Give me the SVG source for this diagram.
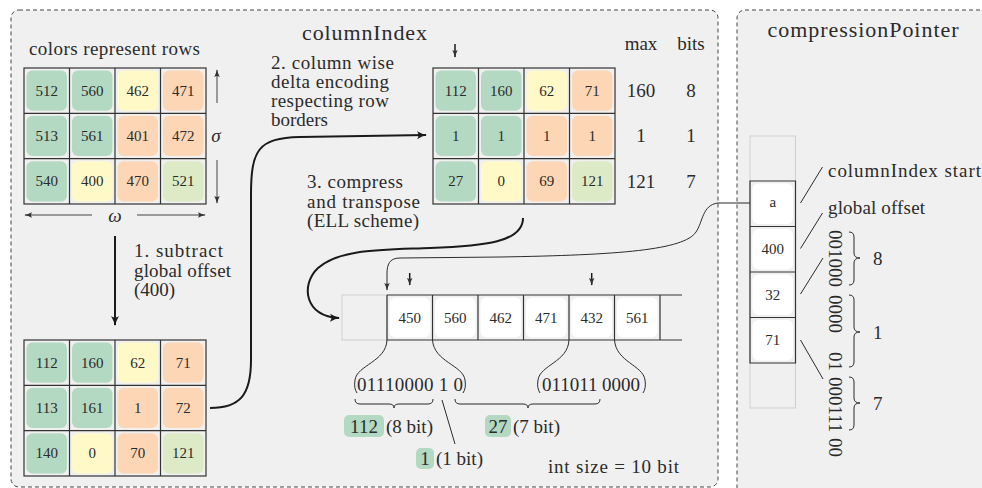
<svg xmlns="http://www.w3.org/2000/svg" width="982" height="488" viewBox="0 0 982 488">
<defs>
<style>
.t{font-family:"Liberation Serif","DejaVu Serif",serif;fill:#2b2b2b}
.n{font-size:15px;text-anchor:middle;dominant-baseline:central}
.b{font-size:19px}
.bc{font-size:19px;text-anchor:middle}
.grid{fill:none;stroke:#333;stroke-width:1.2}
.g{fill:#b3d9c3}.y{fill:#fff9c8}.o{fill:#fdd6b5}.lg{fill:#dcebc6}.w{fill:#fff}
.thick{fill:none;stroke:#1a1a1a;stroke-width:2}
.thin{fill:none;stroke:#2b2b2b;stroke-width:1}
.dim{fill:none;stroke:#444;stroke-width:1}
.panel{fill:#f0f0f0;stroke:#444;stroke-width:1;stroke-dasharray:4 3}
</style>
<marker id="ah" viewBox="0 0 10 10" refX="9" refY="5" markerWidth="10" markerHeight="10" markerUnits="userSpaceOnUse" orient="auto">
<path d="M0,1 Q5,4 10,5 Q5,6 0,9 Q3,5 0,1 z" fill="#1a1a1a"/>
</marker>
<marker id="ahs" viewBox="0 0 10 10" refX="9" refY="5" markerWidth="8" markerHeight="8" markerUnits="userSpaceOnUse" orient="auto">
<path d="M0,1.5 Q5,4 10,5 Q5,6 0,8.5 Q3,5 0,1.5 z" fill="#333"/>
</marker>
<g id="mtx">
<rect class="g" x="2.5" y="2.5" width="40.5" height="40.3" rx="6"/>
<rect class="g" x="48" y="2.5" width="40.5" height="40.3" rx="6"/>
<rect class="y" x="93.5" y="2.5" width="40.5" height="40.3" rx="6"/>
<rect class="o" x="139" y="2.5" width="40.5" height="40.3" rx="6"/>
<rect class="g" x="2.5" y="47.8" width="40.5" height="40.3" rx="6"/>
<rect class="g" x="48" y="47.8" width="40.5" height="40.3" rx="6"/>
<rect class="o" x="93.5" y="47.8" width="40.5" height="40.3" rx="6"/>
<rect class="o" x="139" y="47.8" width="40.5" height="40.3" rx="6"/>
<rect class="g" x="2.5" y="93.2" width="40.5" height="40.3" rx="6"/>
<rect class="y" x="48" y="93.2" width="40.5" height="40.3" rx="6"/>
<rect class="o" x="93.5" y="93.2" width="40.5" height="40.3" rx="6"/>
<rect class="lg" x="139" y="93.2" width="40.5" height="40.3" rx="6"/>
<rect class="grid" x="0" y="0" width="182" height="136"/>
<path class="grid" d="M45.5,0V136M91,0V136M136.5,0V136M0,45.33H182M0,90.67H182"/>
</g>
</defs>

<rect width="982" height="488" fill="#fff"/>
<rect class="panel" x="11" y="10" width="707" height="477" rx="8"/>
<rect class="panel" x="737" y="10" width="270" height="500" rx="8"/>

<text class="t" x="302" y="40" font-size="22" textLength="125">columnIndex</text>
<text class="t" x="863" y="37" font-size="22" text-anchor="middle" textLength="191">compressionPointer</text>

<g id="original">
<text class="t b" x="29" y="55" textLength="171">colors represent rows</text>
<use href="#mtx" transform="translate(24,68)"/>
<g class="t n" transform="translate(24,68)">
<text x="22.75" y="22.67">512</text><text x="68.25" y="22.67">560</text><text x="113.75" y="22.67">462</text><text x="159.25" y="22.67">471</text>
<text x="22.75" y="68">513</text><text x="68.25" y="68">561</text><text x="113.75" y="68">401</text><text x="159.25" y="68">472</text>
<text x="22.75" y="113.33">540</text><text x="68.25" y="113.33">400</text><text x="113.75" y="113.33">470</text><text x="159.25" y="113.33">521</text>
</g>
<path class="dim" d="M217,103V70" marker-end="url(#ahs)"/>
<path class="dim" d="M217,160V203" marker-end="url(#ahs)"/>
<path class="dim" d="M92,215H25" marker-end="url(#ahs)"/>
<path class="dim" d="M137,215H205" marker-end="url(#ahs)"/>
<text class="t" x="216" y="142" font-size="19" font-style="italic" text-anchor="middle">σ</text>
<text class="t" x="115" y="222" font-size="19" font-style="italic" text-anchor="middle">ω</text>
</g>

<g id="offset">
<use href="#mtx" transform="translate(24,340)"/>
<g class="t n" transform="translate(24,340)">
<text x="22.75" y="22.67">112</text><text x="68.25" y="22.67">160</text><text x="113.75" y="22.67">62</text><text x="159.25" y="22.67">71</text>
<text x="22.75" y="68">113</text><text x="68.25" y="68">161</text><text x="113.75" y="68">1</text><text x="159.25" y="68">72</text>
<text x="22.75" y="113.33">140</text><text x="68.25" y="113.33">0</text><text x="113.75" y="113.33">70</text><text x="159.25" y="113.33">121</text>
</g>
<text class="t b" x="134" y="257" textLength="89">1. subtract</text>
<text class="t b" x="134" y="277" textLength="97">global offset</text>
<text class="t b" x="134" y="296">(400)</text>
</g>

<g id="delta">
<use href="#mtx" transform="translate(433,68)"/>
<g class="t n" transform="translate(433,68)">
<text x="22.75" y="22.67">112</text><text x="68.25" y="22.67">160</text><text x="113.75" y="22.67">62</text><text x="159.25" y="22.67">71</text>
<text x="22.75" y="68">1</text><text x="68.25" y="68">1</text><text x="113.75" y="68">1</text><text x="159.25" y="68">1</text>
<text x="22.75" y="113.33">27</text><text x="68.25" y="113.33">0</text><text x="113.75" y="113.33">69</text><text x="159.25" y="113.33">121</text>
</g>
<text class="t bc" x="641" y="50">max</text>
<text class="t bc" x="691" y="50">bits</text>
<text class="t bc" x="641" y="97">160</text><text class="t bc" x="691" y="97">8</text>
<text class="t bc" x="641" y="142">1</text><text class="t bc" x="691" y="142">1</text>
<text class="t bc" x="641" y="188">121</text><text class="t bc" x="691" y="188">7</text>
<text class="t b" x="271" y="69" textLength="123">2. column wise</text>
<text class="t b" x="271" y="88" textLength="118">delta encoding</text>
<text class="t b" x="271" y="107" textLength="118">respecting row</text>
<text class="t b" x="271" y="126">borders</text>
<text class="t b" x="307" y="188" textLength="96">3. compress</text>
<text class="t b" x="307" y="208" textLength="113">and transpose</text>
<text class="t b" x="307" y="227" textLength="112">(ELL scheme)</text>
</g>

<g id="strip">
<rect x="342" y="295" width="45" height="45" fill="#f0f0f0" stroke="#cfcfcf" stroke-width="1"/>
<rect class="w" x="389.5" y="297.5" width="40.5" height="40" rx="6"/>
<rect class="w" x="435" y="297.5" width="40.5" height="40" rx="6"/>
<rect class="w" x="480.5" y="297.5" width="40.5" height="40" rx="6"/>
<rect class="w" x="526" y="297.5" width="40.5" height="40" rx="6"/>
<rect class="w" x="571.5" y="297.5" width="40.5" height="40" rx="6"/>
<rect class="w" x="617" y="297.5" width="40.5" height="40" rx="6"/>
<path class="grid" d="M387,295H682M387,340H682M387,295V340M432.5,295V340M478,295V340M523.5,295V340M569,295V340M614.5,295V340M660,295V340"/>
<g class="t n">
<text x="409.75" y="317.5">450</text><text x="455.25" y="317.5">560</text><text x="500.75" y="317.5">462</text>
<text x="546.25" y="317.5">471</text><text x="591.75" y="317.5">432</text><text x="637.25" y="317.5">561</text>
</g>
<text class="t b" x="357" y="391" textLength="106">01110000 1 0</text>
<text class="t b" x="542" y="391" textLength="98">011011 0000</text>
<rect class="g" x="344" y="415" width="40" height="22" rx="5"/>
<text class="t b" x="364" y="433" text-anchor="middle">112</text>
<text class="t b" x="386" y="433">(8 bit)</text>
<rect class="g" x="485" y="415" width="26" height="22" rx="5"/>
<text class="t b" x="498" y="433" text-anchor="middle">27</text>
<text class="t b" x="513" y="433">(7 bit)</text>
<rect class="g" x="416" y="448" width="18" height="21" rx="5"/>
<text class="t b" x="425" y="465" text-anchor="middle">1</text>
<text class="t b" x="436" y="465">(1 bit)</text>
<text class="t b" x="548" y="473" textLength="131">int size = 10 bit</text>
</g>

<g id="pointer">
<rect x="750" y="136" width="45.5" height="272" fill="#f0f0f0" stroke="#cfcfcf" stroke-width="1"/>
<rect class="w" x="752.5" y="183.5" width="40.5" height="40.5" rx="6"/>
<rect class="w" x="752.5" y="229" width="40.5" height="40.5" rx="6"/>
<rect class="w" x="752.5" y="274.5" width="40.5" height="40.5" rx="6"/>
<rect class="w" x="752.5" y="320" width="40.5" height="40.5" rx="6"/>
<path class="grid" d="M750,181H795.5V363H750ZM750,226.5H795.5M750,272H795.5M750,317.5H795.5"/>
<g class="t n">
<text x="772.75" y="202">a</text><text x="772.75" y="249">400</text>
<text x="772.75" y="294.5">32</text><text x="772.75" y="340">71</text>
</g>
<text class="t b" x="828" y="177" textLength="153">columnIndex start</text>
<text class="t b" x="828" y="214" textLength="97">global offset</text>
<g transform="translate(829,0) rotate(90)">
<text class="t b"><tspan x="230" y="0">001000</tspan><tspan x="295" y="0">0000</tspan><tspan x="352" y="0">01</tspan><tspan x="377" y="0">000111</tspan><tspan x="438" y="0">00</tspan></text>
</g>
<path class="thin" d="M849,232Q854,232 854,237V253Q854,258 860,258Q854,258 854,263V280Q854,285 849,285"/>
<path class="thin" d="M849,295Q854,295 854,300V327Q854,332 860,332Q854,332 854,337V362Q854,367 849,367"/>
<path class="thin" d="M849,377Q854,377 854,382V398Q854,403 860,403Q854,403 854,408V425Q854,430 849,430"/>
<text class="t b" x="873" y="265">8</text>
<text class="t b" x="873" y="339">1</text>
<text class="t b" x="873" y="410">7</text>
</g>

<g id="connectors">
<path class="thick" d="M115,236V325" marker-end="url(#ah)"/>
<path class="thick" d="M210,408C240,408 251,395 251,360V195C251,150 258,138 300,137L426,135" marker-end="url(#ah)"/>
<path class="thick" d="M523,218C523,242 485,246 430,248C380,250 340,249 318,268C300,285 305,317 339,318" marker-end="url(#ah)"/>
<path class="thin" d="M750,203H718C702,205 703,222 696,232C684,250 620,255 500,257L400,258C389,258 387,265 387,274V290" marker-end="url(#ahs)"/>
<path class="thick" d="M455,44V57" marker-end="url(#ahs)" style="stroke-width:1.5"/>
<path class="thick" d="M409.7,273V285" marker-end="url(#ahs)" style="stroke-width:1.5"/>
<path class="thick" d="M591.7,273V285" marker-end="url(#ahs)" style="stroke-width:1.5"/>
<path class="thin" d="M387,340C386,362 357,365 355,380C354,386 355,390 357,393"/>
<path class="thin" d="M432.5,340C434,362 463,365 465,380C466,386 465,390 463,393"/>
<path class="thin" d="M569,340C568,362 540,365 538,380C537,386 538,390 540,393"/>
<path class="thin" d="M614.5,340C616,362 643,365 645,380C646,386 645,390 643,393"/>
<path class="thin" d="M355,399Q355,404 360,404H389Q394,404 394,408Q394,404 399,404H428Q433,404 433,399"/>
<path class="thin" d="M455,399Q455,404 460,404H523Q528,404 528,408Q528,404 533,404H595Q600,404 600,399"/>
<path class="thin" d="M442,400L455,444"/>
<path class="thin" d="M800.5,203L822.5,167M800.5,248.5L822.5,213M800.5,294L823,258M800.5,340L823,379"/>
</g>
</svg>
